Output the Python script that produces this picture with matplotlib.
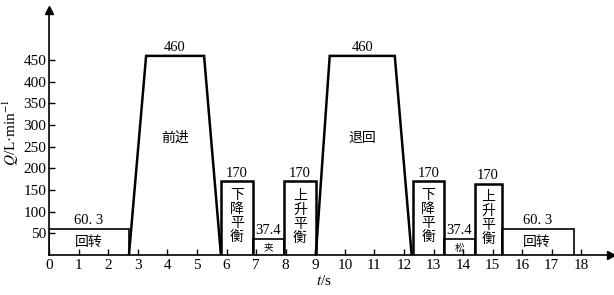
import matplotlib
matplotlib.use("Agg")
import matplotlib.pyplot as plt

plt.rcParams['font.family'] = ['Liberation Serif', 'Noto Sans CJK SC', 'DejaVu Sans']
plt.rcParams['mathtext.fontset'] = 'stix'

# Phases: (x outline, y outline)
rot1_x = [0, 0, 2.7, 2.7]
rot1_y = [0, 60.3, 60.3, 0]
fwd_x = [2.7, 3.28, 5.24, 5.81]
fwd_y = [0, 460, 460, 0]
down1_x = [5.81, 5.81, 6.89, 6.89]
down1_y = [0, 170, 170, 0]
clamp_x = [6.89, 6.89, 7.94, 7.94]
clamp_y = [0, 37.4, 37.4, 0]
up1_x = [7.94, 7.94, 9.02, 9.02]
up1_y = [0, 170, 170, 0]
back_x = [9.02, 9.49, 11.69, 12.26]
back_y = [0, 460, 460, 0]
down2_x = [12.3, 12.3, 13.34, 13.34]
down2_y = [0, 170, 170, 0]
loose_x = [13.34, 13.34, 14.39, 14.39]
loose_y = [0, 37.4, 37.4, 0]
up2_x = [14.39, 14.39, 15.3, 15.3]
up2_y = [0, 165, 165, 0]
rot2_x = [15.3, 15.3, 17.74, 17.74]
rot2_y = [0, 60.3, 60.3, 0]

value_labels = ['60. 3', '460', '170', '37.4', '170', '460', '170', '37.4', '170', '60. 3']
xticks = list(range(0, 19))
yticks = [50, 100, 150, 200, 250, 300, 350, 400, 450]

fig = plt.figure(figsize=(6.14, 2.95), dpi=100)
ax = fig.add_axes([0.080, 0.136, 0.915, 0.83])
ax.set_xlim(0, 19)
ax.set_ylim(0, 566)

shapes = [(rot1_x, rot1_y, 1.2), (fwd_x, fwd_y, 1.8), (down1_x, down1_y, 1.8),
          (clamp_x, clamp_y, 1.2), (up1_x, up1_y, 1.8), (back_x, back_y, 1.8),
          (down2_x, down2_y, 1.8), (loose_x, loose_y, 1.2), (up2_x, up2_y, 1.8),
          (rot2_x, rot2_y, 1.2)]
for xs, ys, lw in shapes:
    ax.plot(xs, ys, color='black', lw=lw, solid_joinstyle='miter')

# value labels above each shape
for (xs, ys, lw), lab in zip(shapes, value_labels):
    cx = (xs[1] + xs[2]) / 2
    ax.text(cx, max(ys) + 4, lab, ha='center', va='bottom', fontsize=10.5)

fs_cn = 10
ax.text(1.35, 30, '回转', ha='center', va='center', fontsize=fs_cn, family=['Noto Sans CJK SC'])
ax.text(4.25, 270, '前进', ha='center', va='center', fontsize=fs_cn, family=['Noto Sans CJK SC'])
ax.text(6.35, 90, '下\n降\n平\n衡', ha='center', va='center', fontsize=fs_cn, linespacing=1.0, family=['Noto Sans CJK SC'])
ax.text(7.42, 17, '夹', ha='center', va='center', fontsize=7, family=['Noto Sans CJK SC'])
ax.text(8.48, 88, '上\n升\n平\n衡', ha='center', va='center', fontsize=fs_cn, linespacing=1.0, family=['Noto Sans CJK SC'])
ax.text(10.6, 270, '退回', ha='center', va='center', fontsize=fs_cn, family=['Noto Sans CJK SC'])
ax.text(12.82, 90, '下\n降\n平\n衡', ha='center', va='center', fontsize=fs_cn, linespacing=1.0, family=['Noto Sans CJK SC'])
ax.text(13.87, 17, '松', ha='center', va='center', fontsize=7, family=['Noto Sans CJK SC'])
ax.text(14.85, 85, '上\n升\n平\n衡', ha='center', va='center', fontsize=fs_cn, linespacing=1.0, family=['Noto Sans CJK SC'])
ax.text(16.5, 30, '回转', ha='center', va='center', fontsize=fs_cn, family=['Noto Sans CJK SC'])

for s in ['top', 'right']:
    ax.spines[s].set_visible(False)
ax.spines['left'].set_linewidth(1.2)
ax.spines['bottom'].set_linewidth(1.2)
ax.plot(1, 0, '>', color='black', transform=ax.transAxes, clip_on=False, markersize=6)
ax.plot(0, 1, '^', color='black', transform=ax.transAxes, clip_on=False, markersize=6)

ax.set_xticks(xticks)
ax.set_yticks(yticks)
ax.tick_params(direction='in', length=4, width=1, labelsize=11)
ax.tick_params(axis='x', pad=3)
ax.tick_params(axis='y', pad=2)

ax.set_xlabel('$t$/s', fontsize=11, labelpad=2)
ax.xaxis.set_label_coords(0.49, -0.08)
ax.set_ylabel('$Q$/L·min$^{-1}$', fontsize=11, labelpad=2)

fig.savefig('out.png', dpi=100)
